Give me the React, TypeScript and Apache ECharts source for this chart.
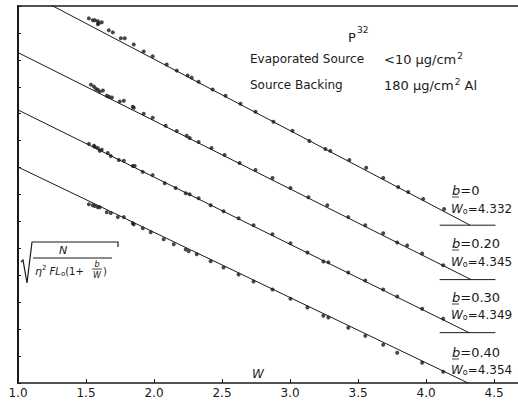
import React, { useEffect, useRef } from 'react';
import * as echarts from 'echarts';

const xTicks = [1.0, 1.5, 2.0, 2.5, 3.0, 3.5, 4.0, 4.5];
const bValues = ['0', '0.20', '0.30', '0.40'];
const w0Values = [4.332, 4.345, 4.349, 4.354];
// fitted straight lines as drawn in the figure: value at W = 1.0 and where each meets its baseline
const startLevels = [14.68, 12.27, 10.14, 8.02];
const lineEndW = [4.324, 4.331, 4.316, 4.309];
const baseLevels = [5.86, 3.84, 1.87, 0];
const baseSegW = [4.1, 4.51];

const w1 = [1.521,1.550,1.565,1.587,1.594,1.616,1.587,1.668,1.697,1.756,1.785,1.851,1.924,1.990,2.093,2.167,2.247,2.277,2.328,2.431,2.526,2.636,2.746,2.878,3.018,3.142,3.260,3.296,3.436,3.560,3.685,3.795,3.869,3.979,4.133];
const v1 = [13.54,13.47,13.47,13.43,13.36,13.40,13.32,13.10,13.02,12.80,12.80,12.57,12.31,12.13,11.83,11.60,11.42,11.34,11.19,10.90,10.67,10.37,10.07,9.70,9.37,8.99,8.69,8.62,8.28,7.99,7.61,7.28,7.09,6.83,6.46];

const w2 = [1.536,1.558,1.572,1.587,1.601,1.624,1.653,1.668,1.690,1.748,1.778,1.844,1.851,1.924,1.990,2.086,2.167,2.240,2.262,2.328,2.423,2.519,2.629,2.746,2.871,3.003,3.135,3.274,3.428,3.553,3.685,3.788,3.861,3.971,4.126];
const v2 = [11.08,11.01,10.93,10.89,10.82,10.86,10.67,10.63,10.60,10.45,10.48,10.26,10.22,10.00,9.85,9.55,9.36,9.18,9.10,8.95,8.73,8.47,8.17,7.91,7.61,7.24,6.90,6.60,6.16,5.86,5.56,5.22,5.11,4.81,4.37];

const w3 = [1.521,1.558,1.565,1.587,1.601,1.616,1.660,1.682,1.741,1.778,1.844,1.858,1.917,1.990,2.079,2.159,2.233,2.262,2.328,2.416,2.511,2.622,2.732,2.871,3.003,3.128,3.245,3.282,3.428,3.553,3.685,3.788,3.971,4.126];
const v3 = [8.88,8.81,8.77,8.73,8.62,8.66,8.54,8.43,8.28,8.25,8.06,8.06,7.84,7.72,7.42,7.24,7.05,7.01,6.86,6.60,6.38,6.12,5.86,5.52,5.19,4.85,4.51,4.48,4.10,3.81,3.47,3.21,2.76,2.39];

const w4 = [1.521,1.550,1.565,1.587,1.601,1.653,1.682,1.734,1.778,1.844,1.851,1.917,1.976,2.071,2.145,2.233,2.255,2.314,2.416,2.511,2.622,2.732,2.871,3.003,3.128,3.245,3.282,3.428,3.553,3.685,3.788,3.971,4.126];
const v4 = [6.64,6.60,6.57,6.53,6.53,6.34,6.31,6.16,6.16,5.93,5.89,5.75,5.60,5.34,5.15,4.96,4.89,4.78,4.52,4.29,4.03,3.77,3.47,3.13,2.80,2.50,2.43,2.05,1.75,1.42,1.12,0.75,0.42];

const pointSets = [[w1, v1], [w2, v2], [w3, v3], [w4, v4]];

const INK = '#1a1a1a';
const FONT = '"DejaVu Sans", sans-serif';

export default function App() {
  const ref = useRef<HTMLDivElement>(null);
  useEffect(() => {
    document.body.style.margin = '0';
    const chart = echarts.init(ref.current!, null, { renderer: 'svg' });
    const series: any[] = [];
    pointSets.forEach(([ws, vs], i) => {
      series.push({
        type: 'line',
        data: [[1.0, startLevels[i]], [lineEndW[i], baseLevels[i]]],
        symbol: 'none',
        lineStyle: { color: INK, width: 1 },
        clip: true,
        silent: true,
      });
      series.push({
        type: 'scatter',
        data: ws.map((w, k) => [w, vs[k]]),
        symbolSize: 4,
        itemStyle: { color: INK },
        silent: true,
      });
      if (baseLevels[i] > 0) {
        series.push({
          type: 'line',
          data: [[baseSegW[0], baseLevels[i]], [baseSegW[1], baseLevels[i]]],
          symbol: 'none',
          lineStyle: { color: INK, width: 1 },
          silent: true,
        });
      }
    });

    const labelY = [[190, 209], [243, 262], [297, 315], [352, 370]];
    const graphics: any[] = [];
    bValues.forEach((b, i) => {
      graphics.push({
        type: 'text', x: 452, y: labelY[i][0],
        style: {
          text: '{i|b}=' + b, font: '13px ' + FONT, fill: INK, verticalAlign: 'middle',
          rich: { i: { fontStyle: 'italic', fontSize: 13, fontFamily: 'DejaVu Sans' } },
        },
      });
      graphics.push({
        type: 'line', shape: { x1: 452, y1: labelY[i][0] + 7, x2: 459, y2: labelY[i][0] + 7 },
        style: { stroke: INK, lineWidth: 0.8 },
      });
      graphics.push({
        type: 'text', x: 451, y: labelY[i][1],
        style: {
          text: '{w|W}{s|o}=' + w0Values[i].toFixed(3), font: '12px ' + FONT, fill: INK, verticalAlign: 'middle',
          rich: {
            w: { fontStyle: 'italic', fontSize: 12, fontFamily: 'DejaVu Sans' },
            s: { fontSize: 8, fontFamily: 'DejaVu Sans', padding: [5, 0, 0, 0] },
          },
        },
      });
    });

    graphics.push(
      { type: 'text', x: 348, y: 37, style: { text: 'P', font: '13px ' + FONT, fill: INK, verticalAlign: 'middle' } },
      { type: 'text', x: 357, y: 30, style: { text: '32', font: '9px ' + FONT, fill: INK, verticalAlign: 'middle' } },
      { type: 'text', x: 250, y: 59, style: { text: 'Evaporated Source', font: '12px ' + FONT, fill: INK, verticalAlign: 'middle' } },
      { type: 'text', x: 384, y: 59, style: { text: '<10 μg/cm{s|2}', font: '13px ' + FONT, fill: INK, verticalAlign: 'middle',
        rich: { s: { fontSize: 9, fontFamily: 'DejaVu Sans', padding: [0, 0, 6, 1] } } } },
      { type: 'text', x: 250, y: 85, style: { text: 'Source Backing', font: '12px ' + FONT, fill: INK, verticalAlign: 'middle' } },
      { type: 'text', x: 384, y: 85, style: { text: '180 μg/cm{s|2} Al', font: '13px ' + FONT, fill: INK, verticalAlign: 'middle',
        rich: { s: { fontSize: 9, fontFamily: 'DejaVu Sans', padding: [0, 0, 6, 1] } } } },
      { type: 'text', x: 252, y: 374, style: { text: 'W', font: 'italic 12px ' + FONT, fill: INK, verticalAlign: 'middle' } },
      // y-axis quantity: sqrt( N / (eta^2 F L0 (1 + b/W)) )
      { type: 'polyline', shape: { points: [[21, 262], [23, 260], [27, 283], [32, 242], [118, 242], [118, 247]] }, style: { stroke: INK, lineWidth: 1.2, fill: 'none' } },
      { type: 'line', shape: { x1: 33, y1: 258, x2: 112, y2: 258 }, style: { stroke: INK, lineWidth: 1 } },
      { type: 'text', x: 63, y: 250, style: { text: 'N', font: 'italic 11px ' + FONT, fill: INK, align: 'center', verticalAlign: 'middle' } },
      { type: 'text', x: 35, y: 271, style: { text: '{e|η}{p|2} {f|FL}{s|o}(1+', font: '10px ' + FONT, fill: INK, verticalAlign: 'middle',
        rich: {
          e: { fontStyle: 'italic', fontSize: 11, fontFamily: 'DejaVu Sans' },
          p: { fontSize: 7, fontFamily: 'DejaVu Sans', padding: [0, 0, 6, 0] },
          f: { fontStyle: 'italic', fontSize: 10, fontFamily: 'DejaVu Sans' },
          s: { fontSize: 7, fontFamily: 'DejaVu Sans', padding: [5, 0, 0, 0] },
        } } },
      { type: 'text', x: 97, y: 264, style: { text: 'b', font: 'italic 8px ' + FONT, fill: INK, align: 'center', verticalAlign: 'middle' } },
      { type: 'line', shape: { x1: 92, y1: 269, x2: 102, y2: 269 }, style: { stroke: INK, lineWidth: 0.8 } },
      { type: 'text', x: 97, y: 275, style: { text: 'W', font: 'italic 8px ' + FONT, fill: INK, align: 'center', verticalAlign: 'middle' } },
      { type: 'text', x: 103, y: 271, style: { text: ')', font: '10px ' + FONT, fill: INK, verticalAlign: 'middle' } },
    );

    chart.setOption({
      animation: false,
      backgroundColor: '#ffffff',
      grid: { left: 18, right: 0, top: 6, bottom: 19 },
      xAxis: [
        {
          type: 'value', min: 1.0, max: 4.676, position: 'bottom',
          splitLine: { show: false },
          axisLine: { lineStyle: { color: INK, width: 1.5 } },
          axisTick: { inside: true, length: 4, customValues: xTicks, lineStyle: { color: INK } },
          axisLabel: { customValues: xTicks, formatter: (v: number) => v.toFixed(1), color: INK, fontSize: 12, fontFamily: 'DejaVu Sans', margin: 4 },
        },
        {
          type: 'value', min: 1.0, max: 4.676, position: 'top',
          splitLine: { show: false },
          axisLine: { show: true, lineStyle: { color: INK, width: 1.5 } },
          axisTick: { show: false }, axisLabel: { show: false },
        },
      ],
      yAxis: {
        type: 'value', min: 0, max: 14, interval: 1,
        splitLine: { show: false },
        axisLine: { show: true, lineStyle: { color: INK, width: 2 } },
        axisTick: { show: true, inside: true, length: 3, lineStyle: { color: INK } },
        axisLabel: { show: false },
      },
      series,
      graphic: graphics,
    });
    return () => chart.dispose();
  }, []);
  return <div ref={ref} style={{ position: 'fixed', left: 0, top: 0, width: 518, height: 402 }} />;
}
